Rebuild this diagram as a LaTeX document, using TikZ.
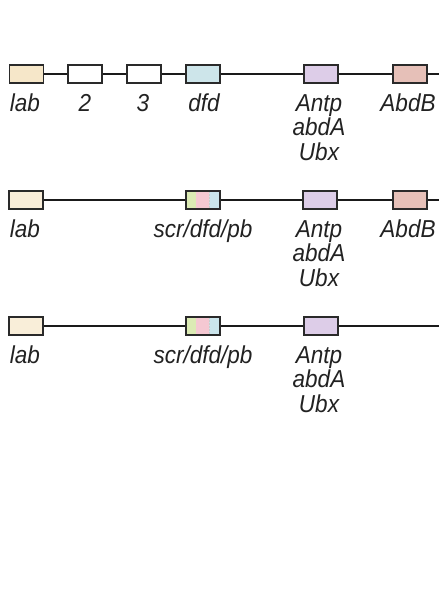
\documentclass[tikz,border=0pt]{standalone}
\usepackage{fontspec}
\setmainfont{Liberation Sans}[FakeStretch=0.92]
\definecolor{labc}{HTML}{F6E7C9}
\definecolor{dfdc}{HTML}{CDE5EA}
\definecolor{antc}{HTML}{DDCDE8}
\definecolor{abdc}{HTML}{E6C0B8}
\definecolor{sgreen}{HTML}{DCEBB4}
\definecolor{spink}{HTML}{F5C8D2}
\definecolor{sblue}{HTML}{CBE5EC}
\definecolor{edge}{HTML}{2A2A2A}
\definecolor{wire}{HTML}{1A1A1A}
\definecolor{inkc}{HTML}{222222}
\tikzset{
  genebox/.style={draw=edge, line width=1.5pt, minimum width=34pt, minimum height=18pt, inner sep=0pt},
  stripebox/.style={genebox, path picture={
      \fill[sgreen] (path picture bounding box.south west) rectangle ([xshift=10pt]path picture bounding box.north west);
      \fill[spink] ([xshift=10pt]path picture bounding box.south west) rectangle ([xshift=23pt]path picture bounding box.north west);
      \fill[sblue] ([xshift=23pt]path picture bounding box.south west) rectangle (path picture bounding box.north east);
      \draw[white!60!gray, densely dotted, line width=0.5pt] ([xshift=23pt]path picture bounding box.south west) -- ([xshift=23pt]path picture bounding box.north west);
  }},
  wireline/.style={draw=wire, line width=2.8pt},
  genelabel/.style={anchor=north, inner sep=0pt, align=center, text=inkc, font={\fontsize{24.5}{24.5}\selectfont\itshape}}
}
\begin{document}
\begin{tikzpicture}[x=1pt,y=-1pt]
\useasboundingbox[fill=white] (0,0) rectangle (439,592);
% Row 1
\node[genebox, fill=labc] (r1lab) at (26.5,74) {};
\node[genebox, fill=white] (r1two) at (85,74) {};
\node[genebox, fill=white] (r1three) at (144,74) {};
\node[genebox, fill=dfdc] (r1dfd) at (203,74) {};
\node[genebox, fill=antc] (r1ant) at (321,74) {};
\node[genebox, fill=abdc] (r1abd) at (410,74) {};
\coordinate (r1end) at (440,74);
\draw[wireline] (r1lab) -- (r1two) (r1two) -- (r1three) (r1three) -- (r1dfd) (r1dfd) -- (r1ant) (r1ant) -- (r1abd) (r1abd.east) -- (r1end);
\node[genelabel] (t1lab) at (25,94) {lab};
\node[genelabel] (t1two) at (85,94) {2};
\node[genelabel] (t1three) at (143,94) {3};
\node[genelabel] (t1dfd) at (204,94) {dfd};
\node[genelabel] (t1ant) at (319,94) {Antp\\abdA\\Ubx};
\node[genelabel] (t1abd) at (408,94) {AbdB};
% Row 2
\node[genebox, fill=labc!70!white] (r2lab) at (26,200) {};
\node[stripebox] (r2scr) at (203,200) {};
\node[genebox, fill=antc] (r2ant) at (320,200) {};
\node[genebox, fill=abdc] (r2abd) at (410,200) {};
\coordinate (r2end) at (440,200);
\draw[wireline] (r2lab) -- (r2scr) (r2scr) -- (r2ant) (r2ant) -- (r2abd) (r2abd.east) -- (r2end);
\node[genelabel] (t2lab) at (25,220) {lab};
\node[genelabel] (t2scr) at (203,220) {scr/dfd/pb};
\node[genelabel] (t2ant) at (319,220) {Antp\\abdA\\Ubx};
\node[genelabel] (t2abd) at (408,220) {AbdB};
% Row 3
\node[genebox, fill=labc!70!white] (r3lab) at (26,326) {};
\node[stripebox] (r3scr) at (203,326) {};
\node[genebox, fill=antc] (r3ant) at (321,326) {};
\coordinate (r3end) at (440,326);
\draw[wireline] (r3lab) -- (r3scr) (r3scr) -- (r3ant) (r3ant.east) -- (r3end);
\node[genelabel] (t3lab) at (25,346) {lab};
\node[genelabel] (t3scr) at (203,346) {scr/dfd/pb};
\node[genelabel] (t3ant) at (319,346) {Antp\\abdA\\Ubx};
\end{tikzpicture}
\end{document}
